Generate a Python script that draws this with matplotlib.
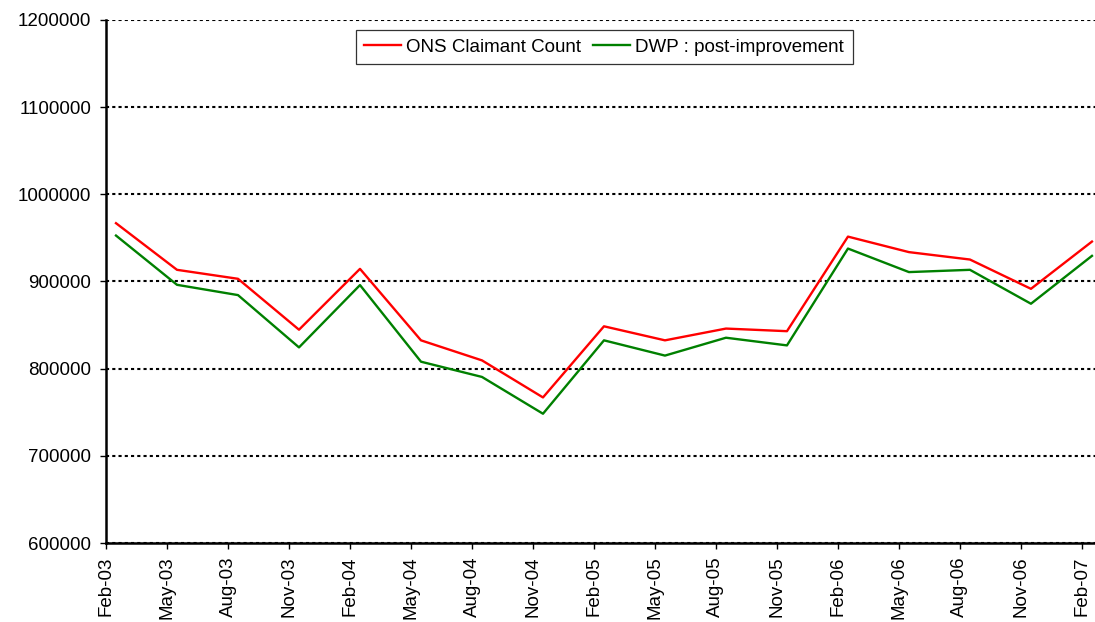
import numpy as np
import matplotlib
matplotlib.use('Agg')
import matplotlib.pyplot as plt

plt.rcParams['font.family'] = ['Liberation Sans', 'DejaVu Sans']

months = ['Feb-03', 'May-03', 'Aug-03', 'Nov-03', 'Feb-04', 'May-04',
          'Aug-04', 'Nov-04', 'Feb-05', 'May-05', 'Aug-05', 'Nov-05',
          'Feb-06', 'May-06', 'Aug-06', 'Nov-06', 'Feb-07']
ons_count = [966900, 913400, 903100, 844700, 914500, 832500,
             809500, 767000, 848600, 832500, 846000, 843000,
             951500, 933700, 925200, 891600, 945800]
dwp_post = [952700, 896200, 884400, 824400, 895900, 808000,
            790500, 748300, 832500, 815000, 835500, 826700,
            937800, 910800, 913400, 874500, 929400]


def main():
    fig = plt.figure(figsize=(10.95, 6.22), dpi=100)
    ax = fig.add_axes([106 / 1095, 79 / 622, 989 / 1095, 523 / 622])

    x = np.arange(len(months))
    ax.plot(x, ons_count, color='#ff0000', lw=1.7,
            label='ONS Claimant Count', zorder=3)
    ax.plot(x, dwp_post, color='#008000', lw=1.7,
            label='DWP : post-improvement', zorder=3)

    # tick marks sit a little left of the points in the original
    shift = 0.164
    ax.set_xlim(-shift, len(months) - 1 + 0.05)
    ax.set_xticks(x - shift)
    ax.set_xticklabels(months, rotation=90, fontsize=13.5)

    ax.set_ylim(600000, 1200000)
    ax.set_yticks(np.arange(600000, 1200001, 100000))
    ax.set_yticklabels([str(v) for v in range(600000, 1200001, 100000)],
                       fontsize=13.5)
    ax.yaxis.grid(True, color='black', linestyle=(0, (1.5, 1.5)), lw=1.5)
    ax.set_axisbelow(True)

    for side in ['top', 'right']:
        ax.spines[side].set_visible(False)
    for side in ['left', 'bottom']:
        ax.spines[side].set_linewidth(1.8)
        ax.spines[side].set_color('black')
    ax.tick_params(direction='out', length=4.5, width=1, colors='black')
    ax.tick_params(axis='y', pad=6)
    ax.tick_params(axis='x', pad=5)

    leg = ax.legend(loc='center', bbox_to_anchor=(604 / 1095, 1 - 47 / 622),
                    bbox_transform=fig.transFigure, ncol=2, fontsize=13.5,
                    frameon=True, fancybox=False, handlelength=2.0,
                    handletextpad=0.27, columnspacing=0.6,
                    borderpad=0.45, borderaxespad=0)
    leg.get_frame().set_edgecolor('black')
    leg.get_frame().set_linewidth(0.9)

    fig.savefig('out.png', dpi=100)


if __name__ == '__main__':
    main()
